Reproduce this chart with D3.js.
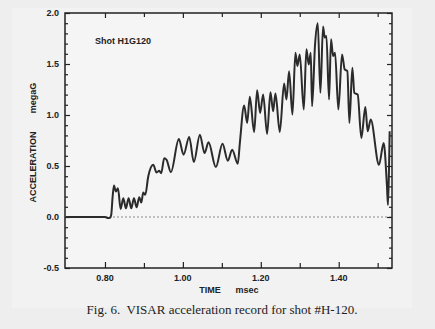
<!DOCTYPE html>
<html>
<head>
<meta charset="utf-8">
<script src="https://cdn.jsdelivr.net/npm/d3@7"></script>
<style>
  html, body { margin: 0; padding: 0; background: #eeeeee; }
  svg { display: block; }
  .tick-label { font-family: "Liberation Sans", Arial, sans-serif; font-size: 9px; font-weight: bold; fill: #222; }
</style>
</head>
<body>
<div id="chart"></div>
<script>
// time (msec) and acceleration (megaG)
const timeMs = [
  0.700, 0.800, 0.808, 0.813, 0.816, 0.8197, 0.8231, 0.8282, 0.8333, 0.8402,
  0.8470, 0.8538, 0.8607, 0.8675, 0.8744, 0.8812, 0.8880, 0.8932, 0.8983, 0.9034,
  0.9111, 0.9239, 0.9325, 0.9393, 0.9444, 0.9521, 0.9581, 0.9692, 0.9897, 1.0017,
  1.0162, 1.0282, 1.0436, 1.0556, 1.0658, 1.0846, 1.1017, 1.1154, 1.1265, 1.1410,
  1.1462, 1.1573, 1.1650, 1.1718, 1.1829, 1.1906, 1.1983, 1.2060, 1.2162, 1.2248,
  1.2316, 1.2376, 1.2487, 1.2598, 1.2658, 1.2726, 1.2812, 1.2889, 1.2940, 1.3000,
  1.3103, 1.3171, 1.3231, 1.3282, 1.3316, 1.3393, 1.3462, 1.3530, 1.3598, 1.3641,
  1.3684, 1.3752, 1.3803, 1.3855, 1.3906, 1.3991, 1.4085, 1.4154, 1.4222, 1.4274,
  1.4350, 1.4402, 1.4487, 1.4581, 1.4684, 1.4744, 1.4821, 1.5034, 1.5154, 1.5239,
  1.5265, 1.5290, 1.5308
];
const accelMegaG = [
  0.000, 0.000, -0.010, -0.008, 0.02, 0.20, 0.308, 0.249, 0.282, 0.079,
  0.184, 0.085, 0.184, 0.085, 0.184, 0.095, 0.194, 0.141, 0.240, 0.217,
  0.397, 0.512, 0.436, 0.453, 0.430, 0.577, 0.561, 0.440, 0.764, 0.610,
  0.784, 0.538, 0.807, 0.627, 0.732, 0.489, 0.718, 0.551, 0.659, 0.522,
  0.725, 1.093, 0.922, 1.178, 0.833, 1.243, 1.020, 1.201, 0.814, 1.224,
  1.037, 1.211, 0.833, 1.309, 1.152, 1.430, 1.004, 1.611, 1.480, 1.594,
  1.053, 1.644, 1.496, 1.611, 1.086, 1.693, 1.900, 1.217, 1.867, 1.759,
  1.775, 1.152, 1.742, 1.578, 1.611, 1.053, 1.594, 1.447, 1.430, 0.922,
  1.463, 1.217, 1.201, 0.774, 1.079, 0.840, 0.955, 0.512, 0.725, 0.299,
  0.118, 0.450, 0.840
];
const xMajorTicks = [0.80, 1.00, 1.20, 1.40];
const xMinorTicks = [0.90, 1.10, 1.30, 1.50];
const yMajorTicks = [-0.5, 0.0, 0.5, 1.0, 1.5, 2.0];
const yMinorTicks = [-0.4, -0.3, -0.2, -0.1, 0.1, 0.2, 0.3, 0.4, 0.6, 0.7, 0.8, 0.9,
                     1.1, 1.2, 1.3, 1.4, 1.6, 1.7, 1.8, 1.9];

const W = 435, H = 329;
const margin = { top: 13, right: 43, bottom: 61, left: 65 };
const width = W - margin.left - margin.right;
const height = H - margin.top - margin.bottom;

const svg = d3.select('#chart').append('svg')
  .attr('width', W)
  .attr('height', H);

// scanned page tone
svg.append('rect').attr('width', W).attr('height', H).attr('fill', '#eeeeee');
svg.append('rect').attr('x', 12).attr('y', 8).attr('width', 400).attr('height', 300).attr('fill', '#f2f2f2');

const g = svg.append('g').attr('transform', `translate(${margin.left},${margin.top})`);

g.append('rect').attr('width', width).attr('height', height).attr('fill', '#f5f5f5');

const x = d3.scaleLinear().domain([0.6974, 1.5368]).range([0, width]);
const y = d3.scaleLinear().domain([-0.5, 2.0]).range([height, 0]);

// zero reference line (dotted)
g.append('line')
  .attr('x1', 0).attr('x2', width)
  .attr('y1', y(0)).attr('y2', y(0))
  .attr('stroke', '#8a8a8a').attr('stroke-width', 1)
  .attr('stroke-dasharray', '2,2');

// inward ticks on all four sides
function tickAxis(axisFn, scale, ticks, size, transform) {
  const a = g.append('g')
    .attr('transform', transform)
    .call(axisFn(scale).tickValues(ticks).tickSize(-size).tickFormat(''));
  a.select('.domain').remove();
  a.selectAll('.tick line').attr('stroke', '#222').attr('stroke-width', 1.2);
  return a;
}
tickAxis(d3.axisBottom, x, xMajorTicks, 6, `translate(0,${height})`);
tickAxis(d3.axisBottom, x, xMinorTicks, 5, `translate(0,${height})`);
tickAxis(d3.axisTop, x, xMajorTicks, 5, 'translate(0,0)');
tickAxis(d3.axisTop, x, xMinorTicks, 4, 'translate(0,0)');
tickAxis(d3.axisLeft, y, yMajorTicks, 5, 'translate(0,0)');
tickAxis(d3.axisLeft, y, yMinorTicks, 3, 'translate(0,0)');
tickAxis(d3.axisRight, y, yMajorTicks, 5, `translate(${width},0)`);
tickAxis(d3.axisRight, y, yMinorTicks, 3, `translate(${width},0)`);

// tick labels
g.selectAll('.xlab')
  .data(xMajorTicks)
  .enter().append('text')
  .attr('class', 'tick-label')
  .attr('x', d => x(d))
  .attr('y', height + 13)
  .attr('text-anchor', 'middle')
  .text(d => d.toFixed(2));

g.selectAll('.ylab')
  .data(yMajorTicks)
  .enter().append('text')
  .attr('class', 'tick-label')
  .attr('x', -6)
  .attr('y', d => y(d) + 3)
  .attr('text-anchor', 'end')
  .text(d => d.toFixed(1));

// data trace
const data = timeMs.map((t, i) => ({ t, v: accelMegaG[i] }));
const line = d3.line()
  .x(d => x(d.t))
  .y(d => y(d.v))
  .curve(d3.curveMonotoneX);

g.append('path')
  .datum(data)
  .attr('fill', 'none')
  .attr('stroke', '#2b2b2b')
  .attr('stroke-width', 2)
  .attr('stroke-linejoin', 'round')
  .attr('d', line);

// frame
g.append('rect')
  .attr('width', width).attr('height', height)
  .attr('fill', 'none').attr('stroke', '#222').attr('stroke-width', 1.5);

// annotation
g.append('text')
  .attr('class', 'tick-label')
  .attr('x', 30).attr('y', 31)
  .text('Shot H1G120');

// axis titles
svg.append('text')
  .attr('class', 'tick-label')
  .attr('transform', 'translate(36,167) rotate(-90)')
  .attr('text-anchor', 'middle')
  .text('ACCELERATION');
svg.append('text')
  .attr('class', 'tick-label')
  .attr('transform', 'translate(36,98) rotate(-90)')
  .attr('text-anchor', 'middle')
  .text('megaG');

svg.append('text')
  .attr('class', 'tick-label')
  .attr('x', 210).attr('y', 293)
  .attr('text-anchor', 'middle')
  .text('TIME');
svg.append('text')
  .attr('class', 'tick-label')
  .attr('x', 247).attr('y', 293)
  .attr('text-anchor', 'middle')
  .text('msec');

// caption
svg.append('text')
  .attr('x', 222).attr('y', 314)
  .attr('text-anchor', 'middle')
  .attr('font-family', '"Liberation Serif", "Times New Roman", serif')
  .attr('font-size', '13px')
  .attr('fill', '#222')
  .attr('xml:space', 'preserve')
  .text('Fig. 6.  VISAR acceleration record for shot #H-120.');
</script>
</body>
</html>
